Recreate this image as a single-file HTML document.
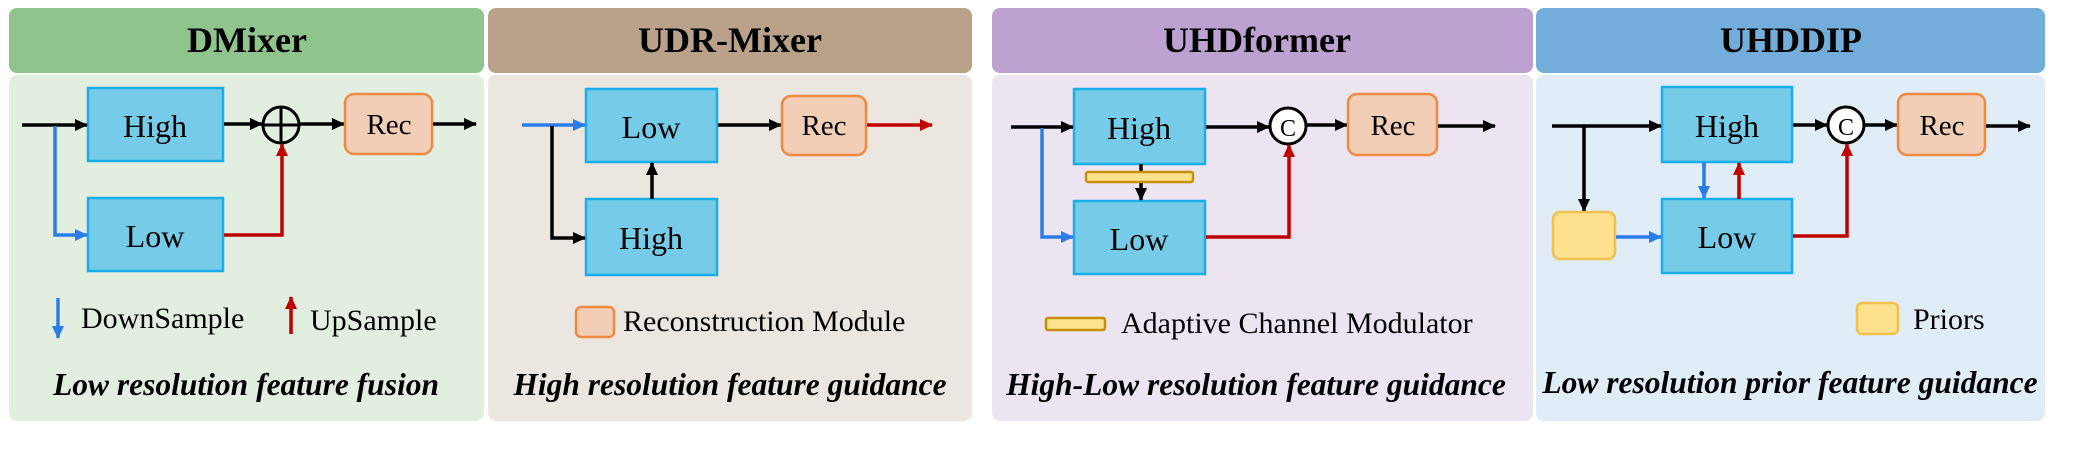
<!DOCTYPE html>
<html><head><meta charset="utf-8"><style>
html,body{margin:0;padding:0;background:#fff;}
svg{display:block;}
text{font-family:"Liberation Serif",serif;fill:#000;}
.t{font-size:36px;font-weight:bold;text-anchor:middle;}
.b{font-size:32px;text-anchor:middle;}
.r{font-size:29px;text-anchor:middle;}
.l{font-size:30px;}
.c{font-size:31.5px;font-weight:bold;font-style:italic;text-anchor:middle;}
.box{fill:#76cbe8;stroke:#1aaee8;stroke-width:2.5;}
.rec{fill:#f1ceb5;stroke:#f08a42;stroke-width:2.5;}
.k{stroke:#000;stroke-width:3.5;fill:none;}
.bl{stroke:#2a7de8;stroke-width:3.5;fill:none;}
.rd{stroke:#c00000;stroke-width:3.5;fill:none;}
</style></head><body>
<svg width="2076" height="462" viewBox="0 0 2076 462" xmlns="http://www.w3.org/2000/svg">
<defs>
<marker id="ak" markerUnits="userSpaceOnUse" markerWidth="14" markerHeight="14" refX="12" refY="7" orient="auto"><path d="M0,1 L13,7 L0,13 Z" fill="#000"/></marker>
<marker id="ab" markerUnits="userSpaceOnUse" markerWidth="14" markerHeight="14" refX="12" refY="7" orient="auto"><path d="M0,1 L13,7 L0,13 Z" fill="#2a7de8"/></marker>
<marker id="ar" markerUnits="userSpaceOnUse" markerWidth="14" markerHeight="14" refX="12" refY="7" orient="auto"><path d="M0,1 L13,7 L0,13 Z" fill="#c00000"/></marker>
</defs>

<!-- Panel 1 -->
<rect x="9" y="8" width="475" height="65" rx="8" fill="#8fc58c"/>
<rect x="9" y="75" width="475" height="346" rx="8" fill="#e2efe0"/>
<text class="t" x="247" y="52">DMixer</text>
<rect class="box" x="88" y="88" width="135" height="73"/>
<rect class="box" x="88" y="198" width="135" height="73"/>
<text class="b" x="155" y="137">High</text>
<text class="b" x="155" y="247">Low</text>
<line class="k" x1="22" y1="125" x2="87" y2="125" marker-end="url(#ak)"/>
<polyline class="bl" points="55,126 55,235 87,235" marker-end="url(#ab)"/>
<line class="k" x1="224" y1="124" x2="262" y2="124" marker-end="url(#ak)"/>
<circle cx="281" cy="125" r="18" fill="none" stroke="#000" stroke-width="3"/>
<line x1="263" y1="125" x2="299" y2="125" stroke="#000" stroke-width="3"/>
<line x1="281" y1="107" x2="281" y2="143" stroke="#000" stroke-width="3"/>
<line class="k" x1="299" y1="124" x2="344" y2="124" marker-end="url(#ak)"/>
<rect class="rec" x="345" y="94" width="87" height="60" rx="9"/>
<text class="r" x="389" y="134">Rec</text>
<line class="k" x1="433" y1="124" x2="476" y2="124" marker-end="url(#ak)"/>
<polyline class="rd" points="224,235 282,235 282,144" marker-end="url(#ar)"/>
<line class="bl" x1="58" y1="298" x2="58" y2="338" marker-end="url(#ab)"/>
<text class="l" x="81" y="328">DownSample</text>
<line class="rd" x1="291" y1="334" x2="291" y2="297" marker-end="url(#ar)"/>
<text class="l" x="310" y="330">UpSample</text>
<text class="c" x="246" y="395">Low resolution feature fusion</text>

<!-- Panel 2 -->
<rect x="488" y="8" width="484" height="65" rx="8" fill="#b9a18a"/>
<rect x="488" y="75" width="484" height="346" rx="8" fill="#ebe6df"/>
<text class="t" x="730" y="52">UDR-Mixer</text>
<rect class="box" x="586" y="89" width="131" height="73"/>
<rect class="box" x="586" y="199" width="131" height="76"/>
<text class="b" x="651" y="138">Low</text>
<text class="b" x="651" y="249">High</text>
<line class="bl" x1="522" y1="125" x2="585" y2="125" marker-end="url(#ab)"/>
<polyline class="k" points="552,126 552,238 585,238" marker-end="url(#ak)"/>
<line class="k" x1="652" y1="199" x2="652" y2="163" marker-end="url(#ak)"/>
<line class="k" x1="718" y1="125" x2="781" y2="125" marker-end="url(#ak)"/>
<rect class="rec" x="782" y="96" width="84" height="59" rx="9"/>
<text class="r" x="824" y="135">Rec</text>
<line class="rd" x1="867" y1="125" x2="932" y2="125" marker-end="url(#ar)"/>
<rect x="576" y="307" width="38" height="30" rx="5" fill="#f1ceb5" stroke="#f08a42" stroke-width="2.5"/>
<text class="l" x="623" y="331">Reconstruction Module</text>
<text class="c" x="730" y="395">High resolution feature guidance</text>

<!-- Panel 3 -->
<rect x="992" y="8" width="541" height="65" rx="8" fill="#bca1d1"/>
<rect x="992" y="75" width="541" height="346" rx="8" fill="#ede4f2"/>
<text class="t" x="1257" y="52">UHDformer</text>
<rect class="box" x="1074" y="89" width="131" height="75"/>
<rect class="box" x="1074" y="201" width="131" height="73"/>
<text class="b" x="1139" y="139">High</text>
<text class="b" x="1139" y="250">Low</text>
<line class="k" x1="1011" y1="127" x2="1073" y2="127" marker-end="url(#ak)"/>
<polyline class="bl" points="1042,128 1042,237 1073,237" marker-end="url(#ab)"/>
<line class="k" x1="1141" y1="164" x2="1141" y2="200" marker-end="url(#ak)"/>
<rect x="1086" y="172" width="107" height="10" rx="2" fill="#fde38e" stroke="#c8900a" stroke-width="2.5"/>
<line class="k" x1="1206" y1="127" x2="1269" y2="127" marker-end="url(#ak)"/>
<circle cx="1288" cy="126" r="18" fill="#fff" stroke="#000" stroke-width="3"/>
<text x="1288" y="136" style="font-size:24px;text-anchor:middle">C</text>
<line class="k" x1="1306" y1="125" x2="1347" y2="125" marker-end="url(#ak)"/>
<rect class="rec" x="1348" y="94" width="89" height="61" rx="9"/>
<text class="r" x="1393" y="135">Rec</text>
<line class="k" x1="1438" y1="126" x2="1495" y2="126" marker-end="url(#ak)"/>
<polyline class="rd" points="1206,237 1289,237 1289,145" marker-end="url(#ar)"/>
<rect x="1046" y="318" width="59" height="12" rx="2" fill="#fde38e" stroke="#c8900a" stroke-width="2.5"/>
<text class="l" x="1121" y="333">Adaptive Channel Modulator</text>
<text class="c" x="1256" y="395">High-Low resolution feature guidance</text>

<!-- Panel 4 -->
<rect x="1536" y="8" width="509" height="65" rx="8" fill="#72aed9"/>
<rect x="1536" y="75" width="509" height="346" rx="8" fill="#e0ecf6"/>
<text class="t" x="1791" y="52">UHDDIP</text>
<rect class="box" x="1662" y="87" width="130" height="75"/>
<rect class="box" x="1662" y="199" width="130" height="74"/>
<text class="b" x="1727" y="137">High</text>
<text class="b" x="1727" y="248">Low</text>
<line class="k" x1="1552" y1="126" x2="1661" y2="126" marker-end="url(#ak)"/>
<line class="k" x1="1584" y1="127" x2="1584" y2="211" marker-end="url(#ak)"/>
<rect x="1553" y="212" width="62" height="47" rx="7" fill="#fde18e" stroke="#f0c050" stroke-width="2.5"/>
<line class="bl" x1="1616" y1="237" x2="1661" y2="237" marker-end="url(#ab)"/>
<line class="bl" x1="1704" y1="162" x2="1704" y2="198" marker-end="url(#ab)"/>
<line class="rd" x1="1739" y1="199" x2="1739" y2="163" marker-end="url(#ar)"/>
<line class="k" x1="1793" y1="125" x2="1827" y2="125" marker-end="url(#ak)"/>
<circle cx="1846" cy="125" r="18" fill="#fff" stroke="#000" stroke-width="3"/>
<text x="1846" y="135" style="font-size:24px;text-anchor:middle">C</text>
<line class="k" x1="1864" y1="125" x2="1897" y2="125" marker-end="url(#ak)"/>
<rect class="rec" x="1898" y="94" width="87" height="61" rx="9"/>
<text class="r" x="1942" y="135">Rec</text>
<line class="k" x1="1986" y1="126" x2="2030" y2="126" marker-end="url(#ak)"/>
<polyline class="rd" points="1793,236 1847,236 1847,144" marker-end="url(#ar)"/>
<rect x="1857" y="303" width="41" height="31" rx="5" fill="#fde18e" stroke="#f0c050" stroke-width="2.5"/>
<text class="l" x="1913" y="329">Priors</text>
<text class="c" x="1790" y="393">Low resolution prior feature guidance</text>
</svg>
</body></html>
